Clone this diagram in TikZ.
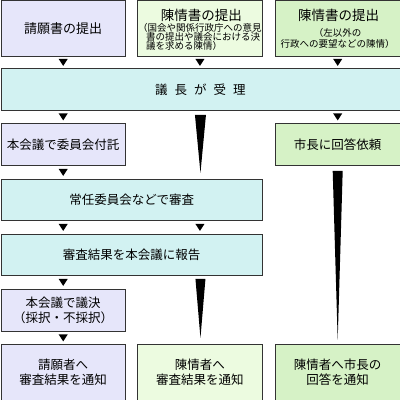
\documentclass[tikz,border=0pt]{standalone}
\usepackage{fontspec}
\setmainfont{Noto Sans CJK JP}
\usetikzlibrary{calc}
\definecolor{lav}{HTML}{E6E6FA}
\definecolor{pale}{HTML}{ECFBE0}
\definecolor{grn}{HTML}{D6F2C6}
\definecolor{cyn}{HTML}{D2F2F2}
\definecolor{edge}{HTML}{333333}
\tikzset{
  box/.style={draw=edge, line width=0.9pt, inner sep=0pt, anchor=north west,
    font=\fontsize{12.5}{15.5}\selectfont, align=center},
  ttl/.style={inner sep=0pt, font=\fontsize{13.5}{15}\selectfont},
  small/.style={inner sep=0pt, font=\fontsize{9.5}{9.2}\selectfont},
  tri/.style={insert path={+(-4.5,3.5) -- +(4.5,3.5) -- +(0,-3.5) -- cycle}}
}
\begin{document}
\begin{tikzpicture}[x=1pt,y=1pt]
\useasboundingbox (0,0) rectangle (400,400);
\node[box, fill=lav, minimum width=124.5pt, minimum height=55.5pt, font=\fontsize{13}{15}\selectfont] (A1) at (0.5,399.5) {請願書の提出};
\node[box, fill=pale, minimum width=125pt, minimum height=55.5pt] (A2) at (137,399.5) {};
\node[ttl] (A2t) at ($(A2.north)+(1.5,-15)$) {陳情書の提出};
\node[small, align=left] (A2s) at ($(A2.north)+(0,-36.5)$) {（国会や関係行政庁への意見\\\hspace{8pt}書の提出や議会における決\\\hspace{8pt}議を求める陳情）};
\node[box, fill=grn, minimum width=124.5pt, minimum height=55.5pt] (A3) at (275,399.5) {};
\node[ttl] (A3t) at ($(A3.north)+(1,-15)$) {陳情書の提出};
\node[small, align=center, font=\fontsize{9.5}{11}\selectfont] (A3s) at ($(A3.north)+(0,-37.5)$) {（左以外の\\行政への要望などの陳情）};
\node[box, fill=cyn, minimum width=399pt, minimum height=42pt] (B) at (0.5,332)
  {議\hspace{7pt}長\hspace{7pt}が\hspace{7pt}受\hspace{7pt}理};
\node[box, fill=lav, minimum width=124.5pt, minimum height=42pt] (C1) at (0.5,277) {本会議で委員会付託};
\node[box, fill=grn, minimum width=124.5pt, minimum height=42pt] (C3) at (275,277) {市長に回答依頼};
\node[box, fill=cyn, minimum width=261.5pt, minimum height=41pt] (D) at (0.5,221) {常任委員会などで審査};
\node[box, fill=cyn, minimum width=261.5pt, minimum height=41pt] (E) at (0.5,166) {審査結果を本会議に報告};
\node[box, fill=lav, minimum width=124.5pt, minimum height=42pt] (F) at (0.5,111) {本会議で議決\\（採択・不採択）};
\node[box, fill=lav, minimum width=124.5pt, minimum height=55.5pt] (G1) at (0.5,56) {請願者へ\\審査結果を通知};
\node[box, fill=pale, minimum width=125pt, minimum height=55.5pt] (G2) at (137,56) {陳情者へ\\審査結果を通知};
\node[box, fill=grn, minimum width=124.5pt, minimum height=55.5pt] (G3) at (275,56) {陳情者へ市長の\\回答を通知};
% small triangle connectors
\fill ($(A1.south)!0.5!(A1.south |- B.north)$) [tri];
\fill ($(A2.south)!0.5!(A2.south |- B.north)$) [tri];
\fill ($(A3.south)!0.5!(A3.south |- B.north)$) [tri];
\fill ($(B.south -| C1.north)!0.5!(C1.north)$) [tri];
\fill ($(B.south -| C3.north)!0.5!(C3.north)$) [tri];
\fill ($(C1.south)!0.5!(C1.south |- D.north)$) [tri];
\fill ($(D.south -| C1.south)!0.5!(E.north -| C1.south)$) [tri];
\fill ($(D.south -| A2.south)!0.5!(E.north -| A2.south)$) [tri];
\fill ($(E.south -| F.north)!0.5!(F.north)$) [tri];
\fill ($(F.south)!0.5!(G1.north)$) [tri];
% long wedges
\coordinate (w1) at ($(B.south -| A2.south)+(0.5,-4)$);
\coordinate (w1t) at ($(D.north -| A2.south)+(0.5,6)$);
\fill ($(w1)+(-5.5,0)$) -- ($(w1)+(5.5,0)$) -- (w1t) -- cycle;
\coordinate (w2) at ($(E.south -| G2.north)+(0.5,-3)$);
\coordinate (w2t) at ($(G2.north)+(0.5,6)$);
\fill ($(w2)+(-5,0)$) -- ($(w2)+(5,0)$) -- (w2t) -- cycle;
\coordinate (w3) at ($(C3.south)+(0,-5)$);
\coordinate (w3t) at ($(G3.north)+(0,4)$);
\fill ($(w3)+(-5,0)$) -- ($(w3)+(5,0)$) -- (w3t) -- cycle;
\end{tikzpicture}
\end{document}
